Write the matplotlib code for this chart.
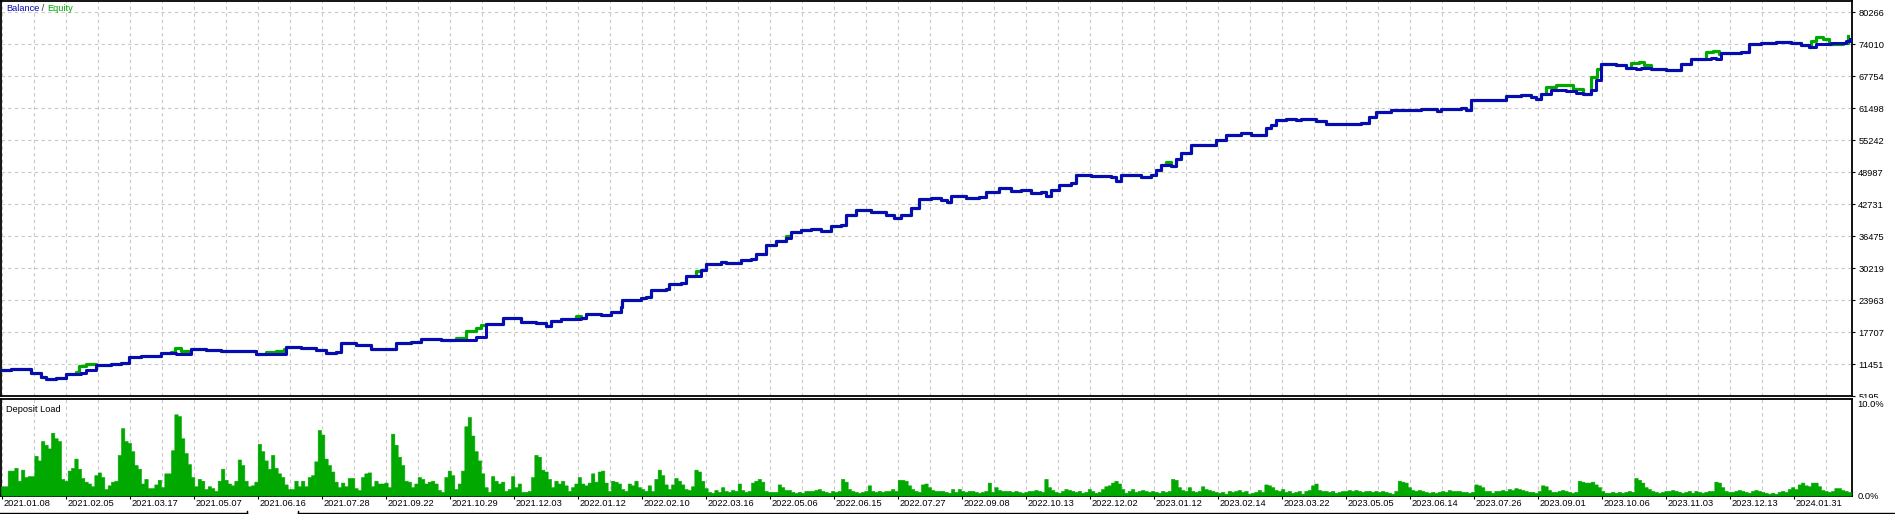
import numpy as np
import matplotlib
matplotlib.use("Agg")
import matplotlib.pyplot as plt
import matplotlib.transforms as mtransforms
from matplotlib.patches import Rectangle
from matplotlib.lines import Line2D

plt.rcParams['font.family'] = ['Liberation Sans', 'DejaVu Sans']
plt.rcParams['font.size'] = 6.7

# ---------------- data ----------------
balance_x = [0, 10, 30, 40, 45, 55, 65, 80, 85, 95, 110, 120, 128, 140, 155, 160, 175, 190, 205, 220,
             235, 255, 270, 285, 300, 315, 325, 335, 340, 355, 370, 390, 395, 410, 420, 440, 460, 475,
             485, 497, 502, 510, 520, 535, 545, 550, 560, 580, 585, 600, 610, 620, 621, 640, 645, 650,
             665, 668, 680, 685, 700, 705, 720, 725, 740, 750, 755, 765, 775, 785, 790, 800, 810, 820,
             830, 840, 845, 855, 870, 885, 893, 900, 910, 918, 930, 940, 946, 950, 965, 978, 985, 995,
             998, 1010, 1020, 1030, 1040, 1045, 1050, 1058, 1070, 1075, 1090, 1110, 1115, 1120, 1140,
             1150, 1155, 1160, 1170, 1175, 1180, 1190, 1200, 1210, 1215, 1225, 1240, 1250, 1260, 1265,
             1270, 1275, 1285, 1295, 1300, 1315, 1325, 1345, 1360, 1368, 1375, 1390, 1410, 1420, 1430,
             1436, 1440, 1460, 1465, 1470, 1480, 1495, 1505, 1520, 1530, 1535, 1540, 1550, 1565, 1575,
             1582, 1590, 1595, 1600, 1615, 1625, 1635, 1640, 1650, 1665, 1675, 1680, 1690, 1710, 1715,
             1720, 1740, 1748, 1760, 1775, 1790, 1800, 1808, 1815, 1830, 1842, 1845, 1849]
balance = [10291, 10428, 9703, 8919, 8527, 8723, 9507, 9762, 10291, 11271, 11467, 11604, 12898, 13094,
           13035, 13682, 13427, 14348, 14211, 14015, 14074, 13368, 13368, 14740, 14603, 14211, 13682,
           13819, 15642, 15132, 14466, 14466, 15524, 15720, 16308, 16171, 16171, 16818, 19307, 19307,
           20424, 20424, 19699, 19444, 18915, 19954, 20228, 20542, 21208, 21071, 21718, 22580, 23874,
           24344, 24540, 25834, 26030, 27147, 27284, 28578, 29891, 31067, 31459, 31204, 31714, 31988,
           33027, 34791, 35438, 36104, 37202, 37731, 37868, 37398, 38378, 38711, 40534, 41592, 41259,
           40534, 39946, 40612, 41984, 43748, 43866, 43474, 43219, 44258, 43944, 44062, 45042, 45042,
           45904, 45375, 45571, 44924, 45042, 44258, 45434, 46414, 46884, 48315, 48178, 47982, 47335,
           48315, 48060, 48315, 49295, 50275, 50138, 51451, 52764, 54195, 54332, 54195, 55234, 56155,
           56684, 56155, 56155, 57664, 58115, 59095, 59291, 59154, 59428, 58958, 58448, 58448, 58644,
           59820, 60800, 61055, 61055, 61251, 61388, 60918, 61388, 61447, 61114, 63015, 63152, 63074,
           63858, 63995, 63662, 63211, 64191, 64975, 64779, 64524, 64250, 65034, 66935, 70071, 69934,
           69424, 69091, 69424, 69091, 68895, 68954, 70208, 71051, 71384, 71188, 72227, 72482, 73991,
           74187, 74324, 74128, 73854, 73403, 73991, 74128, 74128, 74638, 74971]

equity_x = [0, 10, 30, 40, 45, 55, 65, 75, 78, 85, 95, 110, 120, 128, 140, 155, 160, 170, 174, 180, 190,
            205, 220, 235, 255, 265, 275, 283, 285, 300, 315, 325, 335, 340, 355, 370, 390, 395, 410,
            420, 440, 455, 465, 475, 480, 485, 497, 502, 510, 520, 535, 545, 550, 560, 575, 580, 585,
            600, 610, 620, 621, 640, 645, 650, 665, 668, 680, 685, 695, 700, 705, 720, 725, 740, 750,
            755, 765, 775, 785, 790, 800, 810, 820, 830, 840, 845, 855, 870, 885, 893, 900, 910, 918,
            930, 940, 946, 950, 965, 978, 985, 995, 998, 1010, 1020, 1030, 1040, 1045, 1050, 1058,
            1070, 1075, 1090, 1110, 1115, 1120, 1140, 1150, 1155, 1160, 1165, 1170, 1175, 1180, 1190,
            1200, 1210, 1215, 1225, 1240, 1250, 1260, 1265, 1270, 1275, 1285, 1295, 1300, 1315, 1325,
            1345, 1360, 1368, 1375, 1390, 1410, 1420, 1430, 1436, 1440, 1460, 1465, 1470, 1480, 1495,
            1505, 1520, 1530, 1535, 1540, 1545, 1555, 1565, 1572, 1582, 1590, 1596, 1600, 1615, 1625,
            1630, 1638, 1643, 1650, 1665, 1675, 1680, 1690, 1705, 1712, 1718, 1720, 1740, 1748, 1760,
            1775, 1790, 1800, 1808, 1810, 1815, 1822, 1828, 1842, 1847]
equity = [10291, 10428, 9703, 8919, 8527, 8723, 9507, 9801, 11075, 11467, 11271, 11467, 11604, 12898,
          13094, 13035, 13682, 13819, 14603, 14015, 14348, 14211, 14015, 14074, 13368, 13819, 14015,
          14407, 14740, 14603, 14211, 13682, 13819, 15642, 15132, 14466, 14466, 15524, 15720, 16308,
          16171, 16563, 17935, 18523, 19111, 19307, 19307, 20424, 20424, 19699, 19444, 18915, 19954,
          20228, 20900, 20542, 21208, 21071, 21718, 22580, 23874, 24344, 24540, 25834, 26030, 27147,
          27284, 28578, 29700, 29891, 31067, 31459, 31204, 31714, 31988, 33027, 34791, 35438, 36400,
          37202, 37731, 37868, 37398, 38378, 38711, 40534, 41592, 41259, 40534, 39946, 40612, 41984,
          43748, 43866, 43474, 43219, 44258, 43944, 44062, 45042, 45042, 45904, 45375, 45571, 44924,
          45042, 44258, 45434, 46414, 46884, 48315, 48178, 47982, 47335, 48315, 48060, 48315, 49295,
          50275, 50900, 50138, 51451, 52764, 54195, 54332, 54195, 55234, 56155, 56684, 56155, 56155,
          57664, 58115, 59095, 59291, 59154, 59428, 58958, 58448, 58448, 58644, 59820, 60800, 61055,
          61055, 61251, 61388, 60918, 61388, 61447, 61114, 63015, 63152, 63074, 63858, 63995, 63662,
          63211, 64191, 65563, 66014, 65955, 65171, 64250, 67523, 69091, 70071, 69934, 69424, 70267,
          70522, 69875, 69091, 68895, 68954, 70208, 71051, 72423, 72619, 72031, 72227, 72482, 73991,
          74187, 74324, 74128, 73854, 73403, 74579, 75304, 74971, 74083, 74128, 75559]

deposit_load = [
    # 2021.01 - 2021.09
    1.0, 1.0, 2.7, 2.7, 3.0, 1.6, 2.8, 2.0, 2.1, 2.1, 4.3, 3.8, 5.9, 5.5, 5.1, 6.8, 6.2, 5.9, 1.8, 1.6,
    2.7, 3.0, 4.0, 2.9, 1.9, 1.5, 1.3, 1.0, 2.2, 2.5, 2.0, 0.7, 1.1, 1.5, 1.6, 4.4, 7.3, 5.9, 5.7, 4.8,
    3.3, 2.9, 1.3, 1.8, 0.8, 0.8, 1.2, 1.7, 0.9, 2.4, 2.4, 4.9, 8.8, 8.6, 6.2, 4.6, 3.4, 2.0, 1.0, 1.8,
    1.6, 0.7, 1.0, 0.8, 0.5, 1.6, 2.9, 1.7, 1.3, 1.1, 1.6, 3.9, 3.3, 1.6, 1.0, 1.1, 1.5, 5.6, 4.8, 3.8,
    2.9, 4.4, 3.0, 2.4, 2.0, 1.2, 0.7, 0.7, 1.6, 1.0, 1.6, 1.0, 2.0, 2.2, 3.7, 7.1, 6.6, 4.0, 3.3, 2.6,
    1.5, 0.9, 1.4, 1.0, 1.9, 1.9, 0.8, 0.6, 2.0, 2.4, 2.5, 1.0, 1.6, 1.3, 1.3, 1.4, 0.9, 6.7, 5.5, 4.2,
    # 2021.09 - 2022.07
    3.3, 1.6, 1.5, 0.9, 1.3, 2.0, 1.8, 1.3, 1.5, 1.6, 1.3, 0.6, 0.4, 2.0, 2.7, 2.2, 0.7, 1.3, 2.7, 7.5,
    8.5, 6.5, 4.8, 3.8, 2.4, 0.9, 0.4, 2.1, 1.6, 1.3, 1.5, 0.5, 0.7, 2.1, 0.9, 1.3, 0.4, 0.4, 0.5, 2.0,
    4.4, 4.2, 2.8, 2.6, 1.8, 0.9, 1.6, 1.3, 1.6, 1.1, 0.5, 0.9, 1.3, 2.0, 1.3, 1.1, 1.4, 2.4, 1.5, 2.6,
    2.7, 1.4, 0.5, 1.6, 1.5, 1.3, 0.7, 0.5, 1.3, 1.1, 1.6, 0.9, 0.7, 0.5, 1.1, 0.5, 1.8, 2.8, 2.2, 1.2,
    0.7, 1.2, 1.9, 1.6, 1.2, 0.7, 0.6, 1.0, 2.8, 2.6, 1.6, 0.8, 0.4, 0.3, 0.6, 0.4, 0.9, 0.5, 0.4, 0.6,
    0.5, 1.3, 0.6, 0.4, 0.5, 1.4, 1.6, 1.8, 1.5, 0.5, 0.4, 0.4, 0.4, 1.2, 0.9, 0.6, 0.6, 0.4, 0.3, 0.4,
    0.3, 0.5, 0.5, 0.5, 0.6, 0.7, 0.5, 0.4, 0.3, 0.5, 0.4, 0.5, 1.8, 1.5, 0.7, 0.5, 0.4, 0.3, 0.4, 0.5,
    1.1, 0.5, 0.4, 0.5, 0.4, 0.5, 0.5, 0.7, 0.5, 1.7,
    # 2022.07 - 2023.05
    1.7, 1.6, 1.1, 0.7, 0.5, 0.4, 1.2, 1.3, 0.9, 0.6, 0.5, 0.5, 0.5, 0.4, 0.3, 0.7, 0.4, 0.7, 0.5, 0.4,
    0.5, 0.5, 0.4, 0.3, 0.4, 0.5, 1.4, 0.4, 0.9, 0.6, 0.5, 0.5, 0.5, 0.4, 0.5, 0.4, 0.3, 0.4, 0.5, 0.5,
    0.6, 0.5, 0.4, 1.8, 0.9, 0.6, 0.4, 0.3, 0.5, 0.7, 0.6, 0.5, 0.4, 0.5, 0.3, 0.4, 0.7, 0.5, 0.3, 0.4,
    0.7, 1.0, 1.1, 1.4, 1.6, 1.3, 0.7, 0.3, 0.5, 0.7, 0.4, 0.5, 0.6, 0.5, 0.4, 0.5, 0.4, 0.3, 0.5, 0.4,
    0.5, 1.8, 1.7, 0.9, 0.6, 0.5, 0.9, 0.5, 0.4, 0.5, 1.0, 0.7, 0.6, 0.5, 0.4, 0.3, 0.4, 0.2, 0.5, 0.4,
    0.5, 0.6, 0.4, 0.5, 0.2, 0.3, 0.4, 0.6, 0.4, 1.2, 1.1, 0.9, 0.6, 0.5, 0.7, 0.4, 0.5, 0.3, 0.4, 0.5,
    0.2, 0.5, 0.6, 1.1, 1.3, 0.6, 0.5, 0.5, 0.4, 0.5, 0.3, 0.4, 0.5, 0.5, 0.6, 0.5, 0.6, 0.5, 0.4, 0.5,
    0.5, 0.4, 0.5, 0.4, 0.5, 0.4, 0.3, 0.2, 0.5, 1.6,
    # 2023.05 - 2024.02
    1.5, 1.4, 0.9, 0.6, 0.5, 0.6, 0.5, 0.4, 0.3, 0.4, 0.3, 0.4, 0.5, 0.4, 0.6, 0.5, 0.5, 0.5, 0.4, 0.4,
    0.3, 0.4, 1.2, 1.1, 0.9, 0.5, 0.5, 0.3, 0.5, 0.5, 0.6, 0.5, 0.7, 0.6, 0.8, 0.7, 0.6, 0.5, 0.4, 0.4,
    0.3, 0.5, 1.1, 1.0, 0.6, 0.4, 0.4, 0.5, 0.6, 0.5, 0.4, 0.3, 0.4, 1.6, 1.5, 1.4, 1.4, 1.5, 1.2, 0.9,
    0.5, 0.3, 0.3, 0.4, 0.3, 0.4, 0.3, 0.4, 0.5, 0.4, 1.9, 1.7, 1.4, 0.9, 0.7, 0.5, 0.4, 0.3, 0.4, 0.5,
    0.5, 0.6, 0.5, 0.4, 0.3, 0.4, 0.5, 0.3, 0.5, 0.4, 0.3, 0.4, 0.5, 0.5, 1.5, 1.4, 0.9, 0.5, 0.4, 0.4,
    0.5, 0.6, 0.5, 0.4, 0.3, 0.5, 0.6, 0.5, 0.4, 0.3, 0.2, 0.3, 0.2, 0.4, 0.5, 0.4, 0.7, 0.9, 0.7, 1.2,
    1.4, 1.1, 1.0, 1.4, 1.4, 1.0, 0.6, 0.5, 0.4, 0.5, 0.8, 0.8, 0.6, 0.5, 0.4, 0.2]

balance_ticks = [5195, 11451, 17707, 23963, 30219, 36475, 42731, 48987, 55242, 61498, 67754, 74010, 80266]
load_ticks = [0.0, 10.0]
load_tick_labels = ["0.0%", "10.0%"]
date_labels = ["2021.01.08", "2021.02.05", "2021.03.17", "2021.05.07", "2021.06.16", "2021.07.28",
               "2021.09.22", "2021.10.29", "2021.12.03", "2022.01.12", "2022.02.10", "2022.03.16",
               "2022.05.06", "2022.06.15", "2022.07.27", "2022.09.08", "2022.10.13", "2022.12.02",
               "2023.01.12", "2023.02.14", "2023.03.22", "2023.05.05", "2023.06.14", "2023.07.26",
               "2023.09.01", "2023.10.06", "2023.11.03", "2023.12.13", "2024.01.31"]

# ---------------- layout ----------------
W, H = 1895, 514
fig = plt.figure(figsize=(W / 100, H / 100), dpi=100)
fig.patch.set_facecolor("white")


def rect(l, t, r, b):
    return [l / W, 1 - b / H, (r - l) / W, (b - t) / H]


BLUE = "#0a0ab4"
GREEN = "#00a800"
GRID = "#c8c8c8"
XMAX = 1851

ax1 = fig.add_axes(rect(1, 0.6, 1852, 396))
ax2 = fig.add_axes(rect(1, 398.6, 1852, 495.5))
ax2.set_zorder(2)

for ax in (ax1, ax2):
    for s in ax.spines.values():
        s.set_color("black")
        s.set_linewidth(1.3)
    ax.set_xlim(0, XMAX)
    ax.set_facecolor("white")

grid_major = np.arange(1, XMAX, 64)
grid_minor = np.arange(33, XMAX, 64)

# ----- top panel -----
ax1.plot(equity_x, equity, color=GREEN, lw=2.3, drawstyle="steps-post", zorder=3)
ax1.plot(balance_x, balance, color=BLUE, lw=2.2, drawstyle="steps-post", zorder=4)
ax1.set_ylim(5195, 82515)
ax1.set_yticks(balance_ticks)
ax1.set_yticklabels([str(v) for v in balance_ticks])
ax1.yaxis.tick_right()
ax1.tick_params(axis="y", which="both", direction="out", length=2.3, width=0.8, pad=2.2,
                labelsize=6.7, colors="black")
ax1.set_xticks(grid_major)
ax1.set_xticks(grid_minor, minor=True)
ax1.tick_params(axis="x", which="both", length=0, labelbottom=False)
ax1.grid(True, which="both", color=GRID, linestyle=(0, (3.0, 3.0)), linewidth=0.8)
ax1.set_axisbelow(True)

t1 = ax1.text(0.0027, 0.992, "Balance", transform=ax1.transAxes, color=BLUE, fontsize=6.7,
              ha="left", va="top")
t2 = ax1.annotate(" / ", xy=(1, 0), xycoords=t1, ha="left", va="bottom", fontsize=6.7,
                  color="#303030")
ax1.annotate("Equity", xy=(1, 0), xycoords=t2, ha="left", va="bottom", fontsize=6.7,
             color=GREEN)

# ----- bottom panel -----
x_load = np.arange(len(deposit_load)) * (10.0 / 3.0)
ax2.fill_between(x_load, deposit_load, step="post", facecolor=GREEN, edgecolor=GREEN,
                 linewidth=0.4, zorder=3)
ax2.set_ylim(0, 10.5)
ax2.set_yticks(load_ticks)
ax2.set_yticklabels(load_tick_labels)
ax2.yaxis.tick_right()
ax2.tick_params(axis="y", length=0, pad=4.0, labelsize=6.7)
ax2.set_xticks(grid_major)
ax2.set_xticklabels(date_labels, ha="left")
ax2.set_xticks(grid_minor, minor=True)
ax2.tick_params(axis="x", which="major", direction="out", length=2.0, width=0.8, pad=0.5,
                labelsize=6.7)
ax2.tick_params(axis="x", which="minor", length=0)
ax2.grid(True, axis="x", which="both", color=GRID, linestyle=(0, (3.0, 3.0)), linewidth=0.8)
ax2.set_axisbelow(True)
offset = mtransforms.ScaledTranslation(1.5 / 100, 0, fig.dpi_scale_trans)
for lab in ax2.get_xticklabels():
    lab.set_transform(lab.get_transform() + offset)

ax2.text(0.0027, 0.93, "Deposit Load", transform=ax2.transAxes, color="black", fontsize=6.7,
         ha="left", va="top")

# white cover hiding the lower part of the last balance label
fig.add_artist(Rectangle((1853 / W, 1 - 401 / H), 42 / W, 2.6 / H, transform=fig.transFigure,
                         facecolor="white", edgecolor="none", zorder=1))

# bottom tab outlines
fig.add_artist(Line2D([0, 247 / W], [1 - 512.5 / H] * 2, transform=fig.transFigure,
                      color="black", lw=1.0))
fig.add_artist(Line2D([247 / W, 247 / W], [1 - 512.5 / H, 1 - 510.5 / H], transform=fig.transFigure,
                      color="black", lw=1.0))
fig.add_artist(Line2D([298 / W, 1.0], [1 - 512.5 / H] * 2, transform=fig.transFigure,
                      color="black", lw=1.0))
fig.add_artist(Line2D([298 / W, 298 / W], [1 - 512.5 / H, 1 - 510.5 / H], transform=fig.transFigure,
                      color="black", lw=1.0))

fig.savefig("out.png", dpi=100, facecolor="white")
